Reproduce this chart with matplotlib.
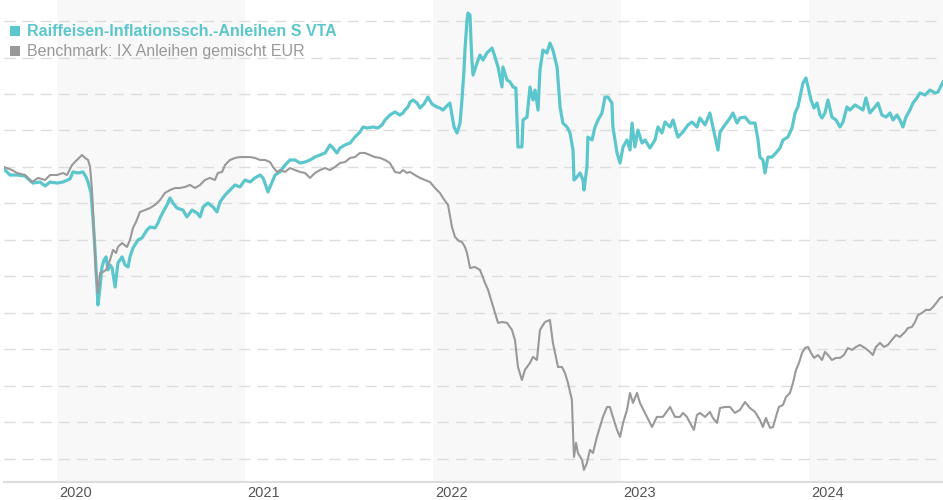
import numpy as np
import matplotlib.pyplot as plt
import matplotlib.transforms as mtrans
from matplotlib.patches import Rectangle

fund_name = "Raiffeisen-Inflationssch.-Anleihen S VTA"
bench_name = "Benchmark: IX Anleihen gemischt EUR"

# time in decimal years, value as indexed performance
fund_t = [
    2019.718, 2019.750, 2019.787, 2019.830, 2019.872, 2019.910, 2019.936, 2019.963, 2020.000, 2020.032,
    2020.069, 2020.085, 2020.112, 2020.138, 2020.154, 2020.165, 2020.181, 2020.191, 2020.202, 2020.213,
    2020.218, 2020.229, 2020.239, 2020.250, 2020.261, 2020.271, 2020.282, 2020.293, 2020.309, 2020.324,
    2020.346, 2020.362, 2020.378, 2020.388, 2020.404, 2020.431, 2020.452, 2020.479, 2020.495, 2020.521,
    2020.537, 2020.548, 2020.564, 2020.585, 2020.601, 2020.617, 2020.638, 2020.670, 2020.691, 2020.718,
    2020.745, 2020.761, 2020.777, 2020.803, 2020.830, 2020.851, 2020.867, 2020.894, 2020.920, 2020.947,
    2020.973, 2021.000, 2021.027, 2021.053, 2021.080, 2021.096, 2021.106, 2021.122, 2021.144, 2021.160,
    2021.186, 2021.213, 2021.239, 2021.266, 2021.293, 2021.319, 2021.346, 2021.372, 2021.399, 2021.426,
    2021.452, 2021.468, 2021.489, 2021.505, 2021.532, 2021.559, 2021.585, 2021.612, 2021.628, 2021.649,
    2021.681, 2021.707, 2021.729, 2021.745, 2021.771, 2021.798, 2021.824, 2021.840, 2021.851, 2021.867,
    2021.878, 2021.894, 2021.915, 2021.931, 2021.952, 2021.973, 2021.995, 2022.021, 2022.037, 2022.053,
    2022.074, 2022.090, 2022.101, 2022.112, 2022.128, 2022.144, 2022.154, 2022.165, 2022.170, 2022.181,
    2022.186, 2022.197, 2022.202, 2022.207, 2022.213, 2022.234, 2022.250, 2022.266, 2022.287, 2022.303,
    2022.314, 2022.330, 2022.346, 2022.367, 2022.372, 2022.394, 2022.410, 2022.426, 2022.441, 2022.452,
    2022.473, 2022.479, 2022.500, 2022.516, 2022.532, 2022.543, 2022.559, 2022.569, 2022.585, 2022.606,
    2022.622, 2022.638, 2022.660, 2022.676, 2022.691, 2022.713, 2022.729, 2022.745, 2022.750, 2022.766,
    2022.782, 2022.798, 2022.803, 2022.819, 2022.824, 2022.846, 2022.862, 2022.878, 2022.899, 2022.915,
    2022.931, 2022.952, 2022.957, 2022.979, 2022.995, 2023.011, 2023.032, 2023.048, 2023.059, 2023.074,
    2023.090, 2023.112, 2023.128, 2023.154, 2023.181, 2023.197, 2023.218, 2023.234, 2023.261, 2023.277,
    2023.303, 2023.330, 2023.356, 2023.378, 2023.404, 2023.420, 2023.447, 2023.473, 2023.489, 2023.516,
    2023.527, 2023.553, 2023.580, 2023.596, 2023.617, 2023.633, 2023.660, 2023.686, 2023.713, 2023.729,
    2023.739, 2023.755, 2023.766, 2023.782, 2023.803, 2023.824, 2023.846, 2023.862, 2023.888, 2023.910,
    2023.926, 2023.941, 2023.952, 2023.968, 2023.984, 2023.995, 2024.011, 2024.027, 2024.043, 2024.059,
    2024.069, 2024.085, 2024.101, 2024.122, 2024.144, 2024.165, 2024.181, 2024.202, 2024.218, 2024.245,
    2024.271, 2024.287, 2024.303, 2024.324, 2024.351, 2024.367, 2024.388, 2024.410, 2024.431, 2024.447,
    2024.468, 2024.484, 2024.500, 2024.516, 2024.537, 2024.553, 2024.574, 2024.590, 2024.617, 2024.644,
    2024.670, 2024.686, 2024.713,
]
fund_v = [
    99.86, 99.45, 99.45, 99.38, 98.90, 98.97, 98.70, 98.97, 98.90, 98.97,
    99.18, 99.66, 99.59, 99.66, 99.32, 98.97, 98.22, 96.58, 94.32, 91.78,
    90.55, 91.78, 93.15, 93.63, 93.84, 92.95, 93.29, 93.08, 91.78, 93.42,
    93.84, 93.29, 93.15, 93.84, 94.45, 95.00, 95.14, 95.69, 95.89, 95.82,
    96.16, 96.51, 96.92, 97.40, 97.88, 97.53, 97.19, 97.05, 96.58, 97.05,
    96.85, 96.58, 97.26, 97.53, 97.26, 96.92, 97.60, 98.08, 98.42, 98.77,
    98.63, 99.11, 98.97, 99.25, 99.45, 99.25, 98.90, 98.29, 98.97, 99.45,
    99.66, 100.14, 100.48, 100.48, 100.27, 100.34, 100.48, 100.68, 100.82, 100.96,
    101.51, 101.30, 100.96, 101.30, 101.51, 101.64, 102.05, 102.40, 102.74, 102.67,
    102.74, 102.67, 102.88, 103.22, 103.56, 103.77, 103.56, 103.70, 103.90, 104.11,
    104.45, 104.59, 104.38, 104.04, 104.31, 104.79, 104.31, 104.11, 104.04, 103.90,
    104.18, 104.38, 103.56, 102.74, 102.33, 103.01, 104.59, 106.64, 108.01, 110.07,
    110.55, 110.41, 108.70, 107.33, 106.30, 107.12, 107.67, 107.33, 107.81, 108.01,
    108.15, 107.53, 106.85, 105.48, 106.85, 105.96, 105.82, 105.48, 105.41, 101.37,
    101.37, 103.22, 103.42, 105.48, 104.59, 105.27, 103.90, 106.64, 108.01, 107.81,
    108.49, 108.01, 106.85, 104.11, 103.01, 102.74, 102.33, 101.16, 99.11, 99.32,
    99.59, 99.11, 98.42, 100.00, 102.05, 101.85, 102.74, 103.22, 103.70, 104.79,
    104.79, 104.38, 102.74, 100.96, 100.27, 101.37, 101.85, 101.16, 103.01, 101.37,
    102.53, 101.64, 101.85, 101.30, 101.85, 102.74, 102.33, 103.08, 102.74, 103.22,
    102.05, 102.40, 102.88, 103.08, 102.74, 103.36, 102.88, 103.70, 102.74, 101.16,
    102.40, 102.88, 103.36, 103.70, 103.01, 103.36, 103.42, 103.01, 103.01, 101.85,
    100.68, 100.48, 99.59, 100.68, 100.68, 100.96, 101.30, 101.85, 102.05, 102.67,
    103.70, 104.11, 104.79, 105.75, 106.10, 105.48, 104.59, 104.04, 104.38, 103.56,
    103.36, 103.70, 104.59, 103.42, 103.22, 102.74, 103.08, 104.11, 103.90, 104.25,
    104.04, 103.90, 104.73, 103.70, 104.11, 104.38, 103.56, 103.42, 103.70, 103.22,
    103.56, 103.22, 102.74, 103.42, 103.90, 104.38, 104.73, 105.07, 104.93, 105.27,
    105.07, 105.14, 105.82,
]

bench_t = [
    2019.718, 2019.761, 2019.787, 2019.830, 2019.867, 2019.899, 2019.936, 2019.963, 2020.000, 2020.032,
    2020.053, 2020.080, 2020.106, 2020.133, 2020.149, 2020.165, 2020.176, 2020.186, 2020.197, 2020.207,
    2020.218, 2020.229, 2020.245, 2020.261, 2020.282, 2020.298, 2020.314, 2020.324, 2020.346, 2020.372,
    2020.388, 2020.404, 2020.420, 2020.441, 2020.468, 2020.495, 2020.521, 2020.548, 2020.574, 2020.601,
    2020.628, 2020.654, 2020.681, 2020.707, 2020.734, 2020.761, 2020.787, 2020.814, 2020.840, 2020.856,
    2020.878, 2020.894, 2020.920, 2020.947, 2020.973, 2021.000, 2021.027, 2021.053, 2021.080, 2021.106,
    2021.133, 2021.149, 2021.170, 2021.186, 2021.213, 2021.239, 2021.266, 2021.293, 2021.319, 2021.346,
    2021.372, 2021.399, 2021.426, 2021.452, 2021.479, 2021.505, 2021.532, 2021.559, 2021.585, 2021.612,
    2021.638, 2021.665, 2021.691, 2021.718, 2021.745, 2021.771, 2021.798, 2021.824, 2021.840, 2021.862,
    2021.878, 2021.904, 2021.931, 2021.957, 2021.984, 2022.011, 2022.037, 2022.053, 2022.080, 2022.101,
    2022.117, 2022.138, 2022.154, 2022.170, 2022.181, 2022.197, 2022.223, 2022.250, 2022.277, 2022.293,
    2022.314, 2022.330, 2022.346, 2022.367, 2022.394, 2022.420, 2022.436, 2022.452, 2022.473, 2022.489,
    2022.516, 2022.532, 2022.553, 2022.569, 2022.596, 2022.622, 2022.638, 2022.665, 2022.686, 2022.702,
    2022.718, 2022.739, 2022.745, 2022.750, 2022.761, 2022.771, 2022.793, 2022.803, 2022.819, 2022.835,
    2022.851, 2022.872, 2022.888, 2022.904, 2022.926, 2022.941, 2022.957, 2022.979, 2022.995, 2023.011,
    2023.032, 2023.048, 2023.064, 2023.085, 2023.101, 2023.138, 2023.165, 2023.191, 2023.223, 2023.261,
    2023.287, 2023.314, 2023.330, 2023.351, 2023.367, 2023.388, 2023.404, 2023.420, 2023.447, 2023.473,
    2023.489, 2023.511, 2023.527, 2023.553, 2023.580, 2023.606, 2023.633, 2023.660, 2023.686, 2023.713,
    2023.739, 2023.755, 2023.771, 2023.793, 2023.809, 2023.824, 2023.840, 2023.862, 2023.878, 2023.899,
    2023.915, 2023.931, 2023.947, 2023.963, 2023.979, 2023.995, 2024.011, 2024.027, 2024.048, 2024.069,
    2024.085, 2024.101, 2024.122, 2024.144, 2024.165, 2024.186, 2024.207, 2024.229, 2024.250, 2024.271,
    2024.298, 2024.324, 2024.340, 2024.356, 2024.378, 2024.399, 2024.420, 2024.441, 2024.463, 2024.484,
    2024.511, 2024.527, 2024.548, 2024.564, 2024.580, 2024.601, 2024.622, 2024.644, 2024.660, 2024.681,
    2024.697, 2024.713,
]
bench_v = [
    100.00, 99.79, 99.59, 99.45, 98.97, 99.25, 99.11, 99.45, 99.45, 99.59,
    99.45, 100.14, 100.48, 100.82, 100.62, 100.48, 100.00, 98.42, 95.48, 92.74,
    91.37, 92.74, 92.81, 92.95, 93.63, 94.32, 94.11, 94.52, 94.79, 94.52,
    95.00, 95.82, 96.23, 96.92, 97.05, 97.19, 97.40, 97.74, 98.22, 98.42,
    98.56, 98.56, 98.63, 98.77, 98.56, 98.77, 99.11, 99.25, 99.11, 99.59,
    99.66, 100.14, 100.48, 100.62, 100.68, 100.68, 100.68, 100.62, 100.48, 100.48,
    100.34, 100.00, 99.66, 99.79, 99.66, 99.93, 99.79, 99.66, 99.59, 99.25,
    99.59, 99.79, 99.93, 99.79, 100.00, 100.27, 100.34, 100.62, 100.68, 100.96,
    100.96, 100.82, 100.68, 100.62, 100.48, 100.27, 99.66, 99.59, 99.79, 99.59,
    99.66, 99.45, 99.25, 99.11, 98.97, 98.56, 98.22, 97.88, 97.40, 95.89,
    95.21, 94.93, 94.86, 94.52, 94.11, 93.08, 93.15, 92.95, 92.05, 91.58,
    90.68, 90.00, 89.32, 89.38, 89.32, 88.84, 88.15, 86.30, 85.41, 86.10,
    86.58, 86.99, 86.78, 88.84, 89.38, 89.52, 87.95, 86.30, 86.30, 85.89,
    85.21, 84.04, 81.78, 80.14, 81.10, 80.41, 79.93, 79.25, 79.73, 80.62,
    80.41, 81.51, 82.19, 82.88, 83.56, 83.56, 82.88, 81.99, 81.51, 82.47,
    83.36, 84.52, 83.84, 84.52, 83.84, 82.88, 82.19, 82.88, 82.88, 83.56,
    82.88, 82.88, 83.15, 82.88, 82.47, 81.99, 83.01, 83.15, 82.88, 83.22,
    82.81, 82.47, 83.49, 83.56, 83.56, 83.15, 83.36, 83.90, 83.49, 83.22,
    82.67, 82.19, 82.81, 82.12, 82.19, 82.88, 83.56, 83.70, 84.25, 84.52,
    85.21, 86.10, 86.58, 87.26, 87.60, 87.67, 87.26, 86.92, 87.12, 86.78,
    87.33, 87.12, 86.78, 86.92, 86.92, 87.12, 87.60, 87.47, 87.67, 87.81,
    87.60, 87.33, 87.12, 87.67, 87.95, 87.67, 87.81, 88.15, 88.49, 88.36,
    88.70, 88.97, 89.04, 89.38, 89.86, 90.00, 90.21, 90.21, 90.41, 90.75,
    91.03, 91.10,
]

years = [2020, 2021, 2022, 2023, 2024]
shaded_years = [2020, 2022, 2024]

teal = "#5cc6cd"
grey = "#999999"
fonts = ["Liberation Sans", "DejaVu Sans"]

fig = plt.figure(figsize=(9.43, 5.0), dpi=100)
ax = fig.add_axes([4 / 943, 18 / 500, 939 / 943, 482 / 500])

for y in shaded_years:
    ax.axvspan(y, y + 1, color="#f8f8f8", lw=0, zorder=0)

ax.plot(fund_t, fund_v, color=teal, lw=2.3, solid_joinstyle="round", zorder=3)
ax.plot(bench_t, bench_v, color=grey, lw=1.5, solid_joinstyle="round", zorder=4)

ax.set_xlim(2019.718, 2024.713)
ax.set_ylim(78.42, 111.44)

ax.set_yticks(np.arange(80, 110.01, 2.5))
ax.set_yticklabels([])
ax.yaxis.grid(True, color="#dddddd", lw=1, linestyle=(0, (8, 5)), zorder=1)
ax.tick_params(axis="y", length=0)

ax.set_xticks(years)
ax.set_xticklabels([str(y) for y in years], fontsize=10.5, color="#555555",
                   family=fonts, ha="left")
ax.tick_params(axis="x", length=0, pad=3)
# small shift so the labels sit just right of the year boundary
offset = mtrans.ScaledTranslation(2 / 100, 0, fig.dpi_scale_trans)
for lab in ax.get_xticklabels():
    lab.set_transform(lab.get_transform() + offset)

for s in ["top", "right", "left"]:
    ax.spines[s].set_visible(False)
ax.spines["bottom"].set_color("#dddddd")
ax.spines["bottom"].set_linewidth(1.5)
ax.set_facecolor("white")

# legend
fig.patches.append(Rectangle((10 / 943, 1 - 36 / 500), 10 / 943, 10 / 500,
                             transform=fig.transFigure, color=teal, lw=0))
fig.patches.append(Rectangle((10 / 943, 1 - 56 / 500), 10 / 943, 10 / 500,
                             transform=fig.transFigure, color=grey, lw=0))
fig.text(27 / 943, 1 - 35.5 / 500, fund_name, color=teal, fontsize=11.5, fontweight="bold",
         family=fonts, va="baseline")
fig.text(27 / 943, 1 - 56 / 500, bench_name, color=grey, fontsize=11.5,
         family=fonts, va="baseline")

fig.savefig("out.png", dpi=100)
